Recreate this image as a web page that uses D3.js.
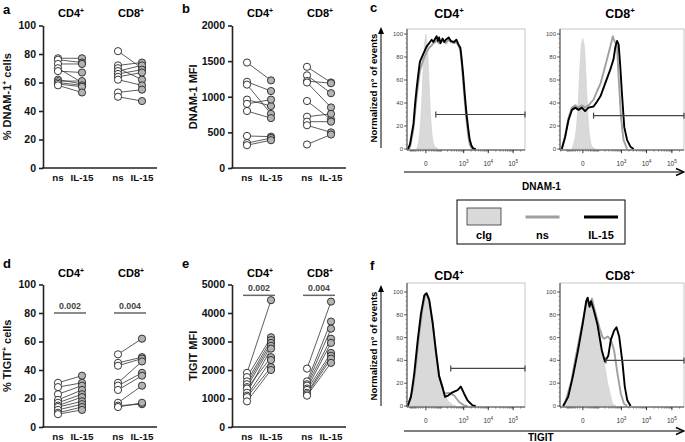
<!DOCTYPE html>
<html><head><meta charset="utf-8">
<script src="https://cdn.jsdelivr.net/npm/d3@7"></script>
<style>
body{margin:0;background:#fff}
svg{display:block}
text{font-family:"Liberation Sans",Arial,Helvetica,sans-serif}
</style>
</head><body>
<svg id="chart" width="685" height="442"></svg>
<script>
// ================= DATA =================
const subsets = ["CD4", "CD8"];
const conditions = ["ns", "IL-15"];

// panel a : % DNAM-1+ cells
const dnamPctCD4ns   = [77, 76, 73, 70, 68, 62, 61, 60, 59, 58];
const dnamPctCD4il15 = [77, 74, 73, 60, 67, 59, 61, 58, 57, 53];
const dnamPctCD8ns   = [82, 72, 70, 68, 66, 64, 62, 53, 50];
const dnamPctCD8il15 = [70, 74, 62, 72, 69, 67, 58, 55, 47];
const pctTicks = [0, 20, 40, 60, 80, 100];

// panel b : DNAM-1 MFI
const dnamMfiCD4ns   = [1480, 1210, 1170, 960, 900, 800, 450, 350, 320];
const dnamMfiCD4il15 = [1230, 1080, 760, 870, 960, 700, 440, 420, 390];
const dnamMfiCD8ns   = [1420, 1300, 1220, 1200, 940, 720, 650, 600, 330];
const dnamMfiCD8il15 = [1200, 1050, 1190, 850, 680, 760, 650, 500, 470];
const dnamMfiTicks = [0, 500, 1000, 1500, 2000];

// panel d : % TIGIT+ cells
const tigitPctCD4ns   = [31, 28, 23, 19, 17, 15, 14, 12, 10, 9];
const tigitPctCD4il15 = [36, 31, 29, 26, 23, 21, 18, 16, 14, 12];
const tigitPctCD8ns   = [51, 45, 43, 31, 29, 26, 17, 15, 14];
const tigitPctCD8il15 = [62, 49, 48, 46, 38, 36, 29, 16, 17];
const tigitPctP = ["0.002", "0.004"];

// panel e : TIGIT MFI
const tigitMfiCD4ns   = [1900, 1750, 1600, 1500, 1400, 1350, 1200, 1100, 1050, 900];
const tigitMfiCD4il15 = [4450, 3150, 3050, 2950, 2850, 2450, 2750, 2350, 2100, 2000];
const tigitMfiCD8ns   = [2050, 1600, 1500, 1450, 1350, 1300, 1200, 1150, 1100];
const tigitMfiCD8il15 = [4400, 3700, 3450, 3100, 2950, 2600, 2500, 2400, 2250];
const tigitMfiTicks = [0, 1000, 2000, 3000, 4000, 5000];
const tigitMfiP = ["0.002", "0.004"];

// histograms: [fluorescence intensity, normalized % of max]
const histCD4DnamCig = [[-42,0],[-31,5],[-24,14],[-18,28],[-13,48],[-8,75],[-5,90],[0,100],[5,88],[8,72],[13,45],[18,25],[24,12],[31,5],[40,2],[65,0]];
const histCD4DnamNs = [[-120,0],[-100,3],[-67,18],[-53,33],[-42,46],[-31,58],[-23,68],[-8,78],[2,84],[11,88],[22,90],[31,92],[53,94],[75,92],[116,95],[166,92],[226,95],[281,93],[390,92],[496,93],[601,90],[727,86],[808,76],[940,60],[1101,42],[1302,25],[1533,12],[1771,4],[2078,1],[2460,0]];
const histCD4DnamIL15 = [[-133,0],[-105,4],[-67,22],[-53,40],[-42,53],[-31,66],[-23,76],[-8,83],[2,89],[11,92],[22,95],[31,93],[53,98],[64,94],[75,97],[90,92],[116,96],[140,93],[166,95],[226,97],[281,94],[390,93],[496,95],[601,91],[727,88],[808,80],[940,66],[1101,48],[1302,31],[1533,18],[1771,8],[2078,3],[2460,0.5],[3089,0]];

const histCD8DnamCig = [[-53,0],[-42,4],[-31,10],[-24,20],[-18,35],[-13,55],[-8,78],[-5,90],[0,96],[5,88],[8,75],[13,50],[18,30],[24,14],[31,6],[40,2],[65,0]];
const histCD8DnamNs = [[-180,0],[-126,11],[-84,27],[-53,36],[-31,38],[-15,36],[-3,38],[7,36],[21,38],[51,43],[80,50],[124,57],[205,72],[343,89],[440,98],[472,96],[566,92],[661,89],[767,63],[956,28],[1212,8],[1683,0]];
const histCD8DnamIL15 = [[-180,0],[-126,10],[-84,25],[-53,34],[-31,36],[-15,34],[-3,36],[7,33],[21,36],[51,37],[80,41],[124,46],[205,57],[343,69],[472,78],[566,89],[661,94],[767,91],[897,72],[1050,48],[1302,19],[1683,8],[2300,2],[3089,0]];

const histCD4TigitCig = [[-136,0],[-75,15],[-47,37],[-27,64],[-11,87],[-2,99],[5,98],[11,95],[27,73],[47,46],[75,26],[120,14],[200,5],[335,1],[461,0]];
const histCD4TigitNs = [[-136,0],[-75,14],[-47,36],[-27,63],[-11,86],[-2,98],[5,97],[11,94],[27,74],[47,47],[75,27],[120,15],[137,11],[234,11.5],[390,9.4],[645,3.5],[1031,0.6],[1431,0]];
const histCD4TigitIL15 = [[-136,0],[-93,8],[-61,28],[-35,58],[-18,81],[-5,97],[2,99],[11,93],[27,73],[47,49],[75,26],[120,15],[153,8],[222,9.4],[335,12],[553,14],[762,17],[1031,11],[1431,5],[2300,0.6],[3089,0]];

const histCD8TigitCig = [[-156,0],[-128,2],[-57,23],[-26,46],[-4,70],[11,90],[17,93],[26,88],[40,95],[63,84],[112,67],[157,46],[264,20],[430,2],[601,0]];
const histCD8TigitNs = [[-156,0],[-128,2],[-57,22],[-26,45],[-4,69],[11,89],[17,94],[26,89],[40,94],[63,83],[112,68],[157,60],[186,59],[264,61],[362,58],[496,49],[694,28],[940,11],[1270,2],[1723,0]];
const histCD8TigitIL15 = [[-156,0],[-87,8],[-46,26],[-17,49],[0,73],[11,92],[17,95],[26,87],[34,92],[53,84],[87,71],[142,49],[200,39],[281,44],[362,58],[496,66],[626,69],[808,61],[1101,38],[1366,17],[1723,5],[2340,0]];

// gates: [start intensity, end intensity, level %]
const gateCD4Dnam = [47, 300000, 30];
const gateCD8Dnam = [51, 300000, 29];
const gateCD4Tigit = [281, 300000, 33];
const gateCD8Tigit = [222, 300000, 40];

const histYTicks = [0, 20, 40, 60, 80, 100];
const histXTicks = [0, 1000, 10000, 100000];
const histXTickExp = ["", "3", "4", "5"];
const legendLabels = ["cIg", "ns", "IL-15"];

// ================= DRAW =================
const svg = d3.select("#chart");
const BOLD = "bold";

function addSupText(sel, main, sup, rest, fs) {
  sel.append("tspan").text(main);
  sel.append("tspan").text(sup).attr("font-size", fs * 0.62).attr("dy", -fs * 0.38);
  if (rest !== null) sel.append("tspan").text(rest).attr("dy", fs * 0.38);
}

function panelLetter(t, x, y) {
  svg.append("text").attr("x", x).attr("y", y).attr("font-size", 13).attr("font-weight", BOLD).text(t);
}

function scatterPanel(o) {
  const g = svg.append("g");
  const y = d3.scaleLinear().domain([0, o.max]).range([o.y0, o.y0 - 142.5]);
  const outer = d3.scaleBand().domain(subsets).range([o.x0, o.x0 + 120]);
  const inner = d3.scalePoint().domain(conditions).range([15, 39]);
  const xp = (s, c) => outer(s) + inner(c);

  // y axis
  const ax = g.append("g").attr("transform", `translate(${o.x0},0)`)
    .call(d3.axisLeft(y).tickValues(o.ticks).tickFormat(d3.format("d")).tickSize(4).tickSizeOuter(0).tickPadding(3));
  ax.attr("font-family", null).attr("font-size", null);
  ax.select(".domain").attr("stroke", "#222").attr("stroke-width", 1.6);
  ax.selectAll(".tick line").attr("stroke", "#222").attr("stroke-width", 1.6);
  ax.selectAll(".tick text").attr("font-size", 10.5).attr("font-weight", BOLD).attr("fill", "#111");

  // x axis line
  g.append("line").attr("x1", o.x0 - 0.8).attr("x2", o.x0 + 114).attr("y1", y(0)).attr("y2", y(0))
    .attr("stroke", "#222").attr("stroke-width", 1.6);

  // category labels + headers
  subsets.forEach(s => {
    conditions.forEach(c => {
      g.append("text").attr("x", xp(s, c)).attr("y", y(0) + 13).attr("text-anchor", "middle")
        .attr("font-size", 9.8).attr("font-weight", BOLD).attr("fill", "#111").text(c);
    });
    const h = g.append("text").attr("x", (xp(s, "ns") + xp(s, "IL-15")) / 2 + 1).attr("y", o.headY)
      .attr("text-anchor", "middle").attr("font-size", 11).attr("font-weight", BOLD);
    addSupText(h, s, "+", null, 11);
  });

  // y label
  const yl = g.append("text").attr("transform", `translate(${o.labelX},${(y(0) + y(o.max)) / 2}) rotate(-90)`)
    .attr("text-anchor", "middle").attr("font-size", 11).attr("font-weight", BOLD).attr("fill", "#111");
  addSupText(yl, o.label[0], o.label[1], o.label[2], 11);

  // significance
  if (o.p) {
    subsets.forEach((s, i) => {
      g.append("line").attr("x1", xp(s, "ns") - 4).attr("x2", xp(s, "IL-15") + 4)
        .attr("y1", y(o.pLevel)).attr("y2", y(o.pLevel)).attr("stroke", "#666").attr("stroke-width", 1.5);
      g.append("text").attr("x", (xp(s, "ns") + xp(s, "IL-15")) / 2).attr("y", y(o.pLevel) - 4)
        .attr("text-anchor", "middle").attr("font-size", 8.8).attr("font-weight", BOLD).attr("fill", "#444").text(o.p[i]);
    });
  }

  // pairs
  subsets.forEach((s, si) => {
    const ns = o.data[si][0], il = o.data[si][1];
    ns.forEach((v, i) => {
      g.append("line").attr("x1", xp(s, "ns")).attr("y1", y(v)).attr("x2", xp(s, "IL-15")).attr("y2", y(il[i]))
        .attr("stroke", "#333").attr("stroke-width", 0.8);
    });
    ns.forEach(v => g.append("circle").attr("cx", xp(s, "ns")).attr("cy", y(v)).attr("r", 3.6)
      .attr("fill", "#fff").attr("stroke", "#222").attr("stroke-width", 0.9));
    il.forEach(v => g.append("circle").attr("cx", xp(s, "IL-15")).attr("cy", y(v)).attr("r", 3.6)
      .attr("fill", "#b3b3b3").attr("stroke", "#222").attr("stroke-width", 0.9));
  });
}

function histPanel(o) {
  const g = svg.append("g");
  const x = d3.scaleSymlog().constant(31.2).domain([o.vmin, 300000]).range([o.L, o.R]);
  const y = d3.scaleLinear().domain([0, 100]).range([o.y0, o.y100]);
  svg.append("clipPath").attr("id", "clip" + o.id).append("rect")
    .attr("x", o.L).attr("y", o.top).attr("width", o.R - o.L).attr("height", o.bottom - o.top);
  const pg = g.append("g").attr("clip-path", `url(#clip${o.id})`);
  pg.append("path").datum(o.cig)
    .attr("d", d3.area().x(d => x(d[0])).y0(y(0)).y1(d => y(d[1])))
    .attr("fill", "#d9d9d9").attr("stroke", "#cccccc").attr("stroke-width", 0.6);
  const line = d3.line().x(d => x(d[0])).y(d => y(d[1]));
  pg.append("path").datum(o.ns).attr("d", line).attr("fill", "none").attr("stroke", "#a0a0a0")
    .attr("stroke-width", 1.9).attr("stroke-linejoin", "round");
  pg.append("path").datum(o.il).attr("d", line).attr("fill", "none").attr("stroke", "#000")
    .attr("stroke-width", 1.9).attr("stroke-linejoin", "round");

  // box
  g.append("rect").attr("x", o.L).attr("y", o.top).attr("width", o.R - o.L).attr("height", o.bottom - o.top)
    .attr("fill", "none").attr("stroke", "#b8b8b8").attr("stroke-width", 0.8);
  g.append("line").attr("x1", o.L).attr("x2", o.L).attr("y1", o.top).attr("y2", o.bottom).attr("stroke", "#333").attr("stroke-width", 0.9);
  g.append("line").attr("x1", o.L).attr("x2", o.R).attr("y1", o.bottom).attr("y2", o.bottom).attr("stroke", "#333").attr("stroke-width", 0.9);

  // y ticks
  d3.range(0, 101, 4).forEach(v => {
    g.append("line").attr("x1", o.L - 1.5).attr("x2", o.L).attr("y1", y(v)).attr("y2", y(v)).attr("stroke", "#555").attr("stroke-width", 0.5);
  });
  histYTicks.forEach(v => {
    g.append("line").attr("x1", o.L - 3).attr("x2", o.L).attr("y1", y(v)).attr("y2", y(v)).attr("stroke", "#333").attr("stroke-width", 0.7);
    g.append("text").attr("x", o.L - 4).attr("y", y(v) + 2).attr("text-anchor", "end")
      .attr("font-size", 6).attr("fill", "#444").text(v);
  });
  // x ticks (minor)
  const minors = [];
  [10, 100, 1000, 10000, 100000].forEach(dec => {
    for (let k = 1; k <= 9; k++) { minors.push(k * dec); minors.push(-k * dec); }
  });
  minors.filter(v => v > o.vmin && v < 300000).forEach(v => {
    g.append("line").attr("x1", x(v)).attr("x2", x(v)).attr("y1", o.bottom).attr("y2", o.bottom + 1.8)
      .attr("stroke", "#444").attr("stroke-width", 0.5);
  });
  histXTicks.forEach((v, i) => {
    g.append("line").attr("x1", x(v)).attr("x2", x(v)).attr("y1", o.bottom).attr("y2", o.bottom + 3.2)
      .attr("stroke", "#222").attr("stroke-width", 0.9);
    const t = g.append("text").attr("x", x(v)).attr("y", o.bottom + 15.5).attr("text-anchor", "middle")
      .attr("font-size", 6.5).attr("fill", "#333");
    if (v === 0) t.text("0");
    else { t.append("tspan").text("10"); t.append("tspan").text(histXTickExp[i]).attr("font-size", 4.6).attr("dy", -3); }
  });

  // gate
  const gy = y(o.gate[2]);
  g.append("line").attr("x1", x(o.gate[0])).attr("x2", x(o.gate[1])).attr("y1", gy).attr("y2", gy)
    .attr("stroke", "#444").attr("stroke-width", 1.2);
  [o.gate[0], o.gate[1]].forEach(v => g.append("line").attr("x1", x(v)).attr("x2", x(v))
    .attr("y1", gy - 3).attr("y2", gy + 3).attr("stroke", "#444").attr("stroke-width", 1.2));

  // header
  const h = g.append("text").attr("x", o.headX).attr("y", o.headY).attr("text-anchor", "middle")
    .attr("font-size", 12.5).attr("font-weight", BOLD);
  addSupText(h, o.title, "+", null, 12.5);
}

function histYLabel(top, bottom) {
  const ax = 381;
  svg.append("line").attr("x1", ax).attr("x2", ax).attr("y1", bottom).attr("y2", top + 5).attr("stroke", "#000").attr("stroke-width", 1);
  svg.append("path").attr("d", `M${ax - 3},${top + 6} L${ax},${top - 1} L${ax + 3},${top + 6} Z`).attr("fill", "#000");
  svg.append("text").attr("transform", `translate(377,${(top + bottom) / 2}) rotate(-90)`)
    .attr("text-anchor", "middle").attr("font-size", 9.6).attr("font-weight", BOLD).text("Normalized n° of events");
}

function histXLabel(yLine, label, lx, ly) {
  svg.append("line").attr("x1", 404).attr("x2", 682).attr("y1", yLine).attr("y2", yLine).attr("stroke", "#000").attr("stroke-width", 1);
  svg.append("path").attr("d", `M676,${yLine - 3.5} L684,${yLine} L676,${yLine + 3.5}`).attr("fill", "none").attr("stroke", "#000").attr("stroke-width", 1.4);
  svg.append("text").attr("x", lx).attr("y", ly).attr("font-size", 10).attr("font-weight", BOLD).text(label);
}

// panel letters
panelLetter("a", 3, 14); panelLetter("b", 182, 13); panelLetter("c", 370, 12);
panelLetter("d", 3, 268); panelLetter("e", 182, 268); panelLetter("f", 370, 270);

scatterPanel({x0: 43, y0: 168, max: 100, ticks: pctTicks, headY: 17, labelX: 11,
  label: ["% DNAM-1", "+", " cells"],
  data: [[dnamPctCD4ns, dnamPctCD4il15], [dnamPctCD8ns, dnamPctCD8il15]]});
scatterPanel({x0: 232, y0: 168, max: 2000, ticks: dnamMfiTicks, headY: 17, labelX: 197,
  label: ["DNAM-1 MFI", "", null],
  data: [[dnamMfiCD4ns, dnamMfiCD4il15], [dnamMfiCD8ns, dnamMfiCD8il15]]});
scatterPanel({x0: 43, y0: 427, max: 100, ticks: pctTicks, headY: 277, labelX: 11,
  label: ["% TIGIT", "+", " cells"], p: tigitPctP, pLevel: 80,
  data: [[tigitPctCD4ns, tigitPctCD4il15], [tigitPctCD8ns, tigitPctCD8il15]]});
scatterPanel({x0: 232, y0: 427, max: 5000, ticks: tigitMfiTicks, headY: 277, labelX: 197,
  label: ["TIGIT MFI", "", null], p: tigitMfiP, pLevel: 4620,
  data: [[tigitMfiCD4ns, tigitMfiCD4il15], [tigitMfiCD8ns, tigitMfiCD8il15]]});

histPanel({id: "c4", L: 407, R: 525, vmin: -148, top: 29, bottom: 150, y0: 149, y100: 34,
  cig: histCD4DnamCig, ns: histCD4DnamNs, il: histCD4DnamIL15, gate: gateCD4Dnam,
  title: "CD4", headX: 449, headY: 18});
histPanel({id: "c8", L: 560, R: 684, vmin: -217, top: 29, bottom: 150, y0: 149, y100: 34,
  cig: histCD8DnamCig, ns: histCD8DnamNs, il: histCD8DnamIL15, gate: gateCD8Dnam,
  title: "CD8", headX: 620, headY: 18});
histPanel({id: "f4", L: 407, R: 525, vmin: -148, top: 283, bottom: 407, y0: 406, y100: 292,
  cig: histCD4TigitCig, ns: histCD4TigitNs, il: histCD4TigitIL15, gate: gateCD4Tigit,
  title: "CD4", headX: 449, headY: 280});
histPanel({id: "f8", L: 560, R: 684, vmin: -217, top: 283, bottom: 407, y0: 406, y100: 292,
  cig: histCD8TigitCig, ns: histCD8TigitNs, il: histCD8TigitIL15, gate: gateCD8Tigit,
  title: "CD8", headX: 620, headY: 280});

histYLabel(28, 148);
histYLabel(286, 406);
histXLabel(172, "DNAM-1", 522, 190);
histXLabel(431, "TIGIT", 528, 441);

// legend
const lg = svg.append("g");
lg.append("rect").attr("x", 457).attr("y", 200).attr("width", 168).attr("height", 44)
  .attr("fill", "#fff").attr("stroke", "#000").attr("stroke-width", 1);
const legX = d3.scalePoint().domain(legendLabels).range([484, 601]);
lg.append("rect").attr("x", legX("cIg") - 17).attr("y", 208).attr("width", 34).attr("height", 17)
  .attr("fill", "#d9d9d9").attr("stroke", "#333").attr("stroke-width", 0.8);
lg.append("line").attr("x1", legX("ns") - 17).attr("x2", legX("ns") + 17).attr("y1", 217).attr("y2", 217)
  .attr("stroke", "#a0a0a0").attr("stroke-width", 3);
lg.append("line").attr("x1", legX("IL-15") - 17).attr("x2", legX("IL-15") + 17).attr("y1", 217).attr("y2", 217)
  .attr("stroke", "#000").attr("stroke-width", 3);
legendLabels.forEach(l => lg.append("text").attr("x", legX(l)).attr("y", 239).attr("text-anchor", "middle")
  .attr("font-size", 11).attr("font-weight", BOLD).text(l));
</script>
</body></html>
